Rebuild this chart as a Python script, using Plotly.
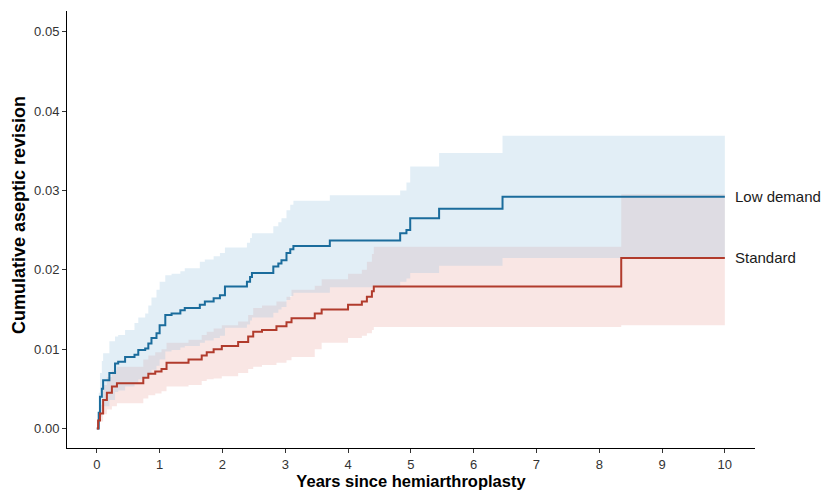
import plotly.graph_objects as go

# ---- data ----
ld_time = [0, 0.03, 0.05, 0.08, 0.1, 0.2, 0.29, 0.34, 0.45, 0.6, 0.66, 0.77, 0.82, 0.87, 0.95, 1.0,
           1.09, 1.19, 1.33, 1.4, 1.64, 1.72, 1.86, 1.96, 2.04, 2.39, 2.44, 2.47, 2.81, 2.89, 2.94,
           3.02, 3.08, 3.13, 3.71, 4.83, 4.93, 4.99, 5.45, 6.46, 10]
ld_est = [0, .002, .004, .005, .0061, .0070, .0082, .0084, .0090, .0093, .0099, .0101, .0107, .0114,
          .0120, .0130, .0143, .0145, .0149, .0152, .0156, .0160, .0164, .0168, .0179, .0185, .0191,
          .0196, .0204, .0208, .0212, .0221, .0226, .0230, .0237, .0246, .0250, .0265, .0277, .0292, .0292]
ld_lower = [0, .0007, .0015, .0022, .0028, .0036, .0046, .0048, .0053, .0057, .0062, .0064, .0068,
            .0074, .0079, .0087, .0097, .0099, .0102, .0104, .0108, .0111, .0114, .0117, .0127, .0131,
            .0136, .0140, .0146, .0150, .0153, .0162, .0167, .0171, .0178, .0185, .0189, .0196, .0205,
            .0215, .0215]
ld_upper = [0, .0045, .0070, .0085, .0095, .0110, .0116, .0118, .0124, .0133, .0140, .0145, .0155,
            .0165, .0175, .0185, .0193, .0195, .0198, .0202, .0210, .0213, .0217, .0221, .0228, .0234,
            .0240, .0246, .0255, .0260, .0265, .0275, .0282, .0287, .0294, .0300, .0310, .0330, .0347,
            .0369, .0369]

st_time = [0, 0.02, 0.05, 0.1, 0.16, 0.24, 0.32, 0.74, 0.82, 0.93, 1.03, 1.11, 1.46, 1.67, 1.75, 1.86,
           1.99, 2.25, 2.41, 2.49, 2.63, 2.86, 3.02, 3.1, 3.47, 3.58, 4.0, 4.22, 4.3, 4.38, 4.41, 8.35, 10]
st_est = [0, .001, .0019, .0036, .0045, .0053, .0057, .0064, .0069, .0072, .0075, .0083, .0087, .0092,
          .0096, .0100, .0104, .0109, .0116, .0122, .0124, .0129, .0134, .0139, .0145, .0150, .0156,
          .0160, .0166, .0173, .0179, .0215, .0215]
st_lower = [0, .0004, .0009, .0018, .0024, .0028, .0032, .0038, .0042, .0044, .0047, .0053, .0055,
            .0060, .0062, .0063, .0066, .0070, .0075, .0078, .0080, .0083, .0086, .0090, .0100, .0108,
            .0114, .0117, .0120, .0124, .0128, .0130, .0130]
st_upper = [0, .0018, .0030, .0055, .0065, .0073, .0078, .0087, .0092, .0096, .0100, .0108, .0112,
            .0118, .0122, .0126, .0130, .0135, .0143, .0152, .0155, .0160, .0166, .0175, .0180, .0188,
            .0195, .0200, .0210, .0220, .0229, .0295, .0295]

x_ticks = [0, 1, 2, 3, 4, 5, 6, 7, 8, 9, 10]
y_ticks = [0.00, 0.01, 0.02, 0.03, 0.04, 0.05]
group_labels = ["Low demand", "Standard"]

BLUE = "#1b6c9c"
RED = "#b13b2c"
BLUE_FILL = "rgba(158,198,225,0.30)"
RED_FILL = "rgba(225,130,120,0.20)"
FONT = "Liberation Sans, Arial, sans-serif"

fig = go.Figure()

# confidence ribbons (red first, blue on top)
fig.add_trace(go.Scatter(x=st_time, y=st_lower, mode="lines", line=dict(width=0, shape="hv"),
                         hoverinfo="skip", showlegend=False))
fig.add_trace(go.Scatter(x=st_time, y=st_upper, mode="lines", line=dict(width=0, shape="hv"),
                         fill="tonexty", fillcolor=RED_FILL, hoverinfo="skip", showlegend=False))
fig.add_trace(go.Scatter(x=ld_time, y=ld_lower, mode="lines", line=dict(width=0, shape="hv"),
                         hoverinfo="skip", showlegend=False))
fig.add_trace(go.Scatter(x=ld_time, y=ld_upper, mode="lines", line=dict(width=0, shape="hv"),
                         fill="tonexty", fillcolor=BLUE_FILL, hoverinfo="skip", showlegend=False))

# step curves
fig.add_trace(go.Scatter(x=ld_time, y=ld_est, mode="lines", name=group_labels[0],
                         line=dict(color=BLUE, width=2, shape="hv"), showlegend=False))
fig.add_trace(go.Scatter(x=st_time, y=st_est, mode="lines", name=group_labels[1],
                         line=dict(color=RED, width=2, shape="hv"), showlegend=False))

# end labels
for lab, yv in zip(group_labels, [ld_est[-1], st_est[-1]]):
    fig.add_annotation(x=10.15, y=yv, text=lab, showarrow=False, xanchor="left", yanchor="middle",
                       borderpad=0, font=dict(family=FONT, size=15, color="#1a1a1a"))

# y-axis title as an annotation to match its placement
fig.add_annotation(xref="paper", yref="paper", x=0, y=0.533, xshift=-48, text="<b>Cumulative aseptic revision</b>",
                   textangle=-90, showarrow=False, xanchor="center", yanchor="middle",
                   font=dict(family=FONT, size=18, color="black"))

# the page body adds an 8px offset, so the figure is sized 822x482
fig.update_layout(
    width=822, height=482,
    margin=dict(l=59, r=75, t=3, b=42),
    plot_bgcolor="white", paper_bgcolor="white",
    font=dict(family=FONT, color="#333333"),
    showlegend=False,
)
fig.update_xaxes(
    range=[-0.475, 10.48], tickvals=x_ticks, ticktext=[str(v) for v in x_ticks],
    showgrid=False, zeroline=False, showline=True, linecolor="black", linewidth=1,
    ticks="outside", ticklen=4, tickcolor="#333333", tickfont=dict(size=13, color="#333333"),
    automargin=False,
    title=dict(text="<b>Years since hemiarthroplasty</b>", font=dict(size=16.5, color="black"), standoff=5),
)
fig.update_yaxes(
    range=[-0.00245, 0.0526], tickvals=y_ticks, ticktext=[f"{v:.2f}" for v in y_ticks],
    showgrid=False, zeroline=False, showline=True, linecolor="black", linewidth=1,
    ticks="outside", ticklen=4, tickcolor="#333333", tickfont=dict(size=13, color="#333333"),
    automargin=False,
)

fig.write_html("out.html")
